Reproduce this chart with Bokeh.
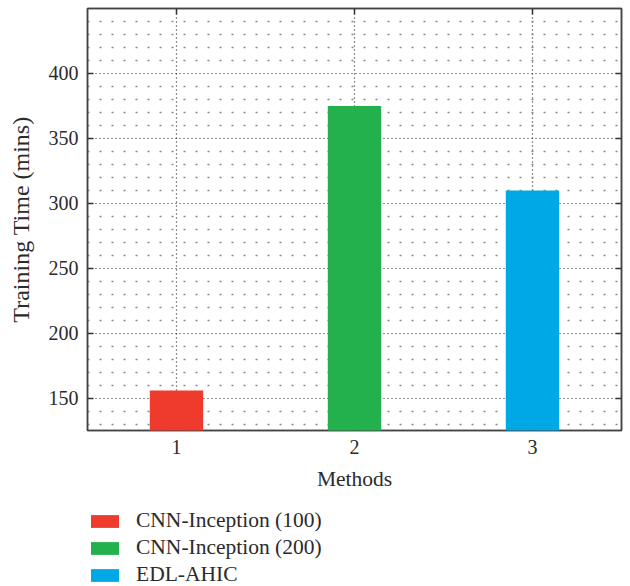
from bokeh.plotting import figure
from bokeh.layouts import column
from bokeh.models import (ColumnDataSource, FixedTicker, Legend, LegendItem,
                          LinearAxis, Range1d, Grid)
from bokeh.embed import file_html
from bokeh.resources import INLINE

# ---- data ----
methods = [1, 2, 3]
times = [156, 375, 310]
names = ["CNN-Inception (100)", "CNN-Inception (200)", "EDL-AHIC"]
colors = ["#EF3B2D", "#22B14C", "#00A9E6"]
x_ticks = [1, 2, 3]
y_ticks = [150, 200, 250, 300, 350, 400]
y_minor = [130, 140, 160, 170, 180, 190, 210, 220, 230, 240, 260, 270, 280,
           290, 310, 320, 330, 340, 360, 370, 380, 390, 410, 420, 430, 440]

FONT = "Liberation Serif"
TXT = "#2b2b2b"

p = figure(frame_width=534, frame_height=422,
           x_range=Range1d(0.5, 3.5), y_range=Range1d(125.3, 450),
           output_backend="svg", toolbar_location=None,
           min_border_left=87, min_border_top=8, min_border_right=9,
           min_border_bottom=66, x_axis_type=None, y_axis_type=None)
p.background_fill_color = "white"
p.border_fill_color = "white"
p.outline_line_color = "#444444"
p.outline_line_width = 1.5

src = ColumnDataSource(dict(x=methods, top=times, name=names, color=colors))
r = p.vbar(x="x", top="top", bottom=0, width=0.3, source=src,
           fill_color="color", line_color=None)

xt = FixedTicker(ticks=x_ticks, minor_ticks=[])
yt = FixedTicker(ticks=y_ticks, minor_ticks=y_minor)


def style(ax, labels=True):
    ax.axis_line_color = "#444444"
    ax.axis_line_width = 1.5
    ax.major_tick_in = 6
    ax.major_tick_out = 0
    ax.major_tick_line_color = "#333333"
    ax.major_tick_line_width = 1.5
    ax.minor_tick_in = 0
    ax.minor_tick_out = 0
    if labels:
        ax.major_label_text_font = FONT
        ax.major_label_text_font_size = "20px"
        ax.major_label_text_color = TXT
        ax.axis_label_text_font = FONT
        ax.axis_label_text_font_style = "normal"
        ax.axis_label_text_color = TXT
    else:
        ax.major_label_text_font_size = "0px"
        ax.major_label_standoff = 0
        ax.major_label_text_alpha = 0


xb = LinearAxis(ticker=xt, axis_label="Methods")
style(xb)
xb.major_label_standoff = 9
xb.axis_label_standoff = 10
xb.axis_label_text_font_size = "21.5px"
p.add_layout(xb, "below")

yl = LinearAxis(ticker=yt, axis_label="Training Time (mins)")
style(yl)
yl.major_label_standoff = 9
yl.axis_label_standoff = 12
yl.axis_label_text_font_size = "24px"
p.add_layout(yl, "left")

xa = LinearAxis(ticker=xt)
style(xa, labels=False)
p.add_layout(xa, "above")
yr = LinearAxis(ticker=yt)
style(yr, labels=False)
p.add_layout(yr, "right")

# grids
gx = Grid(dimension=0, ticker=xt, grid_line_color="#222222",
          grid_line_dash="1 3", grid_line_width=1.2)
gy = Grid(dimension=1, ticker=yt, grid_line_color="#222222",
          grid_line_dash="1 3", grid_line_width=1.2,
          minor_grid_line_color="#888888", minor_grid_line_dash="2 10",
          minor_grid_line_width=1.5)
p.add_layout(gx)
p.add_layout(gy)
r.level = "overlay"

# ---- legend panel (separate figure below the chart) ----
lg = figure(width=630, height=90, x_range=Range1d(100, 101),
            y_range=Range1d(1000, 1001), output_backend="svg",
            toolbar_location=None, min_border_left=0, min_border_right=0,
            min_border_top=0, min_border_bottom=0,
            x_axis_type=None, y_axis_type=None)
lg.outline_line_color = None
lg.xgrid.visible = False
lg.ygrid.visible = False
lg.background_fill_color = "white"
lg.border_fill_color = "white"
lsrc = ColumnDataSource(dict(x=methods, top=times, name=names, color=colors))
lr = lg.vbar(x="x", top="top", bottom=0, width=0.3, source=lsrc,
             fill_color="color", line_color=None)

legend = Legend(items=[LegendItem(label=names[i], renderers=[lr], index=i)
                       for i in range(len(names))],
                location=(0, -2), orientation="vertical",
                glyph_width=35, glyph_height=16, label_standoff=14,
                spacing=0, padding=0, margin=0, label_height=27,
                border_line_color=None, background_fill_alpha=0,
                label_text_font=FONT, label_text_font_size="21.5px",
                label_text_color=TXT)
lg.add_layout(legend)

layout = column(p, lg, spacing=0)
open("out.html", "w").write(file_html(layout, INLINE))
